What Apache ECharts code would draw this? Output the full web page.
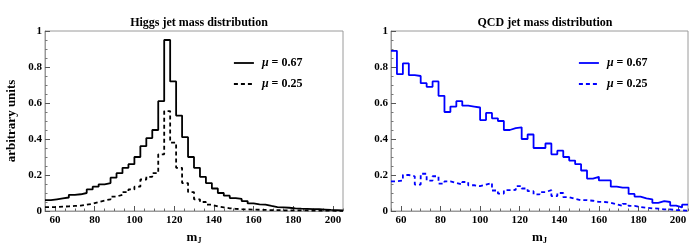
<!DOCTYPE html>
<html>
<head>
<meta charset="utf-8">
<script src="https://cdn.jsdelivr.net/npm/echarts@6/dist/echarts.min.js"></script>
<style>html,body{margin:0;padding:0;background:#fff}#c{width:700px;height:250px}</style>
</head>
<body>
<div id="c"></div>
<script>
// Bin edges (GeV) shared by all histograms
const binEdges = [55,58,61,64,67,70,73,76,79,82,85,88,91,94,97,100,103,106,109,112,115,118,121,124,127,130,133,136,139,142,145,148,151,154,157,160,163,166,169,172,175,178,181,184,187,190,193,196,199,202,205];
const xTickLabels = [60,80,100,120,140,160,180,200];

// Higgs jet mass, mu = 0.67 (solid) and mu = 0.25 (dashed)
const higgs067 = [0.06,0.065,0.07,0.075,0.09,0.093,0.10,0.12,0.135,0.148,0.155,0.185,0.21,0.24,0.26,0.30,0.36,0.405,0.45,0.61,0.95,0.72,0.53,0.41,0.30,0.24,0.19,0.155,0.125,0.10,0.085,0.072,0.067,0.055,0.042,0.037,0.035,0.028,0.022,0.02,0.018,0.015,0.013,0.012,0.01,0.01,0.008,0.006,0.005,0.004];
const higgs025 = [0.022,0.022,0.024,0.026,0.028,0.03,0.035,0.04,0.05,0.058,0.065,0.08,0.09,0.105,0.12,0.135,0.175,0.19,0.21,0.315,0.555,0.38,0.24,0.155,0.105,0.065,0.05,0.035,0.025,0.02,0.015,0.012,0.01,0.009,0.008,0.007,0.006,0.005,0.005,0.004,0.004,0.003,0.003,0.003,0.002,0.002,0.002,0.002,0.001,0.001];

// QCD jet mass, mu = 0.67 (solid) and mu = 0.25 (dashed)
const qcd067 = [0.89,0.76,0.82,0.755,0.75,0.71,0.69,0.72,0.64,0.55,0.58,0.61,0.585,0.58,0.575,0.505,0.545,0.515,0.50,0.45,0.46,0.465,0.40,0.425,0.35,0.35,0.375,0.315,0.335,0.30,0.28,0.26,0.225,0.18,0.19,0.17,0.17,0.135,0.13,0.13,0.095,0.08,0.07,0.065,0.045,0.055,0.05,0.03,0.02,0.035];
const qcd025 = [0.165,0.169,0.20,0.193,0.147,0.207,0.169,0.193,0.152,0.165,0.156,0.147,0.161,0.143,0.138,0.147,0.156,0.114,0.097,0.116,0.117,0.138,0.125,0.11,0.092,0.105,0.116,0.083,0.10,0.077,0.068,0.06,0.06,0.057,0.051,0.05,0.046,0.037,0.028,0.04,0.028,0.022,0.018,0.015,0.013,0.009,0.009,0.005,0.004,0.002];

const legendNames = {H067:'{i|μ} = 0.67', H025:'{i|μ} = 0.25', Q067:'{i|μ} = 0.67', Q025:'{i|μ} = 0.25'};

function stepData(vals){
  const d = vals.map((v,i)=>[binEdges[i], v]);
  d.push([binEdges[binEdges.length-1], vals[vals.length-1]]);
  return d;
}

const FONT = 'Liberation Serif';
const frame = '#9a9a9a';
const grids = [
  {left:45, top:31, width:298, height:182, show:true, borderColor:frame, borderWidth:1},
  {left:391, top:31, width:297, height:182, show:true, borderColor:frame, borderWidth:1}
];

function xAxes(gi){
  return [
    {gridIndex:gi, type:'value', min:55, max:205, interval:5, position:'bottom',
     name:'m{s|J}', nameLocation:'middle', nameGap:20,
     nameTextStyle:{fontFamily:FONT, fontWeight:'bold', fontSize:13, color:'#000',
       rich:{s:{fontFamily:FONT, fontWeight:'bold', fontSize:8, color:'#000', verticalAlign:'bottom', padding:[6,0,0,0]}}},
     axisLine:{show:true, lineStyle:{color:frame}},
     axisTick:{show:true, inside:true, length:2.5, lineStyle:{color:'#666'}},
     axisLabel:{show:true, margin:4, color:'#000', fontFamily:FONT, fontWeight:'bold', fontSize:11,
       formatter:v=> xTickLabels.indexOf(v)>=0 ? String(v) : ''},
     splitLine:{show:false}},
    {gridIndex:gi, type:'value', min:55, max:205, position:'bottom',
     axisLine:{show:false},
     axisTick:{show:true, inside:true, length:5, customValues:xTickLabels, lineStyle:{color:'#555'}},
     axisLabel:{show:false, customValues:xTickLabels},
     splitLine:{show:false}}
  ];
}
function yAxis(gi, withName){
  return {gridIndex:gi, type:'value', min:0, max:1, interval:0.2,
    name: withName ? 'arbitrary units' : '', nameLocation:'middle', nameGap:27,
    nameTextStyle:{fontFamily:FONT, fontWeight:'bold', fontSize:13, color:'#000'},
    axisLine:{show:true, lineStyle:{color:frame}},
    axisTick:{show:true, inside:true, length:5, lineStyle:{color:'#555'}},
    minorTick:{show:true, splitNumber:4, length:2.5, lineStyle:{color:'#777'}},
    axisLabel:{margin:3, color:'#000', fontFamily:FONT, fontWeight:'bold', fontSize:11},
    splitLine:{show:false}};
}

function line(name, vals, xi, yi, color, dashed){
  return {name, type:'line', step:'end', xAxisIndex:xi, yAxisIndex:yi, data:stepData(vals),
    symbol:'none', showSymbol:false, animation:false,
    lineStyle:{color, width:1.8, type: dashed ? [4,3] : 'solid'},
    itemStyle:{color}};
}

const legendText = {fontFamily:FONT, fontWeight:'bold', fontSize:12, color:'#000', padding:[0,0,0,3],
  rich:{i:{fontFamily:FONT, fontWeight:'bold', fontStyle:'italic', fontSize:12, color:'#000'}}};
const legendCommon = {orient:'vertical', top:57, padding:0, itemWidth:20, itemHeight:10, itemGap:9,
  formatter:n=>legendNames[n], textStyle:legendText, selectedMode:false,
  itemStyle:{opacity:0}, lineStyle:{width:1.8}};

const option = {
  animation:false,
  backgroundColor:'#fff',
  title:[
    {text:'Higgs jet mass distribution', left:194, top:12, textAlign:'center',
     textStyle:{fontFamily:FONT, fontWeight:'bold', fontSize:12, color:'#000'}},
    {text:'QCD jet mass distribution', left:540, top:12, textAlign:'center',
     textStyle:{fontFamily:FONT, fontWeight:'bold', fontSize:12, color:'#000'}}
  ],
  legend:[
    Object.assign({data:['H067','H025'], left:233}, legendCommon),
    Object.assign({data:['Q067','Q025'], left:578}, legendCommon)
  ],
  grid:grids,
  xAxis:[...xAxes(0), ...xAxes(1)],
  yAxis:[yAxis(0,true), yAxis(1,false)],
  series:[
    line('H067', higgs067, 0, 0, '#000', false),
    line('H025', higgs025, 0, 0, '#000', true),
    line('Q067', qcd067, 2, 1, '#0000ff', false),
    line('Q025', qcd025, 2, 1, '#0000ff', true)
  ]
};
const chart = echarts.init(document.getElementById('c'), null, {renderer:'canvas'});
chart.setOption(option);
</script>
</body>
</html>
